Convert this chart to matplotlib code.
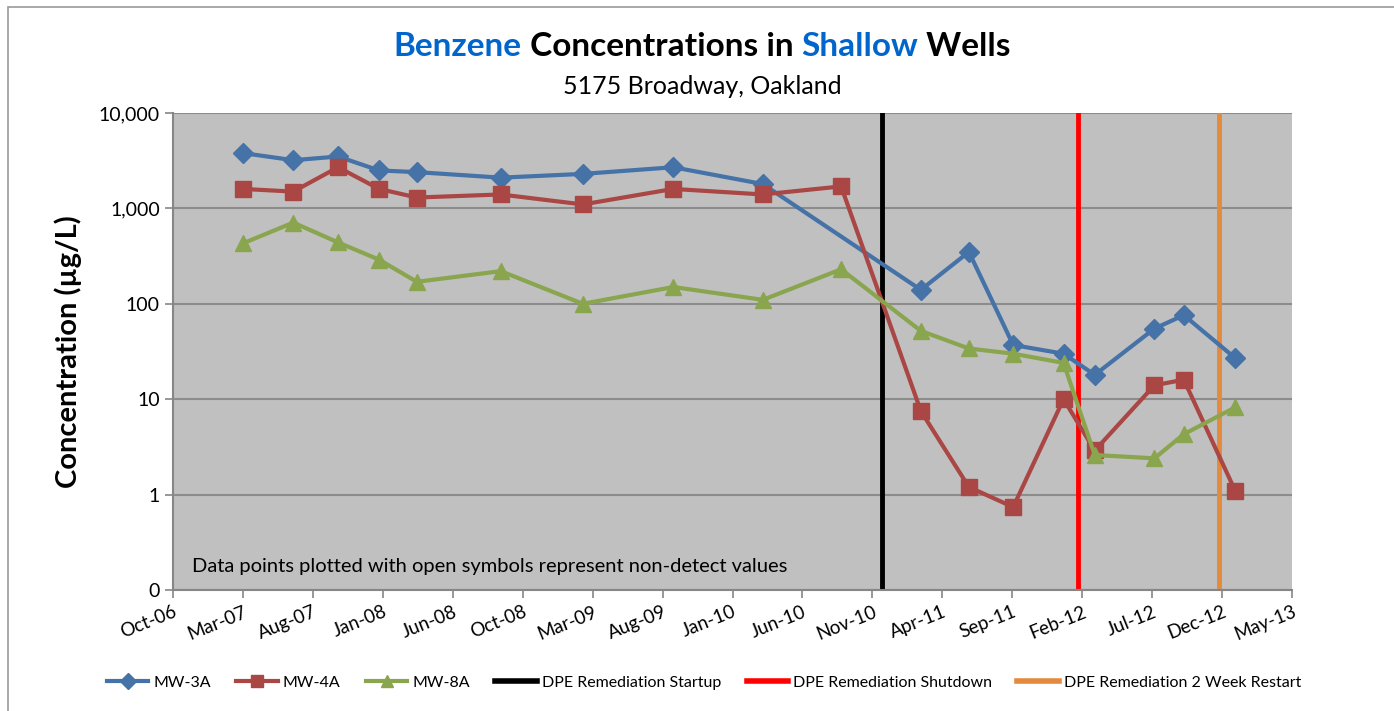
import numpy as np
import matplotlib
matplotlib.use('Agg')
import matplotlib.pyplot as plt
import matplotlib.dates as mdates
from matplotlib.lines import Line2D
from matplotlib.patches import Rectangle

plt.rcParams['font.family'] = ['Lato', 'DejaVu Sans']

# sampling dates
dates = np.array(['2007-03-10', '2007-06-26', '2007-09-30', '2007-12-27', '2008-03-17',
                  '2008-09-13', '2009-03-08', '2009-09-18', '2010-03-29', '2010-09-13',
                  '2011-03-03', '2011-06-14', '2011-09-17', '2012-01-03', '2012-03-10',
                  '2012-07-16', '2012-09-17', '2013-01-05'], dtype='datetime64[D]')

mw3a = [3800, 3200, 3500, 2500, 2400, 2100, 2300, 2700, 1800, np.nan,
        140, 350, 37, 30, 18, 55, 76, 27]
mw4a = [1600, 1500, 2700, 1600, 1300, 1400, 1100, 1600, 1400, 1700,
        7.5, 1.2, 0.74, 10, 2.9, 14, 16, 1.1]
mw8a = [430, 710, 440, 290, 170, 220, 100, 150, 110, 230,
        52, 34, 30, 24, 2.6, 2.4, 4.3, 8.2]

events = ['DPE Remediation Startup', 'DPE Remediation Shutdown', 'DPE Remediation 2 Week Restart']
event_dates = np.array(['2010-12-10', '2012-02-04', '2012-12-02'], dtype='datetime64[D]')
event_colors = ['black', '#FF0000', '#E38A3D']

# axis: Excel style date axis, 150 day major unit
x_start = np.datetime64('2006-10-11')
x_ticks = x_start + np.arange(0, 2401, 150)

fig = plt.figure(figsize=(13.94, 7.11), dpi=100)
ax = fig.add_axes([173 / 1394, 1 - 590 / 711, (1292 - 173) / 1394, (590 - 113) / 711])
ax.set_facecolor('#C0C0C0')

x = dates.astype(object)

series = [('MW-3A', mw3a, '#4572A7', 'D', 10),
          ('MW-4A', mw4a, '#AA4643', 's', 11),
          ('MW-8A', mw8a, '#89A54E', '^', 12)]
handles = []
for name, vals, col, mk, ms in series:
    v = np.array(vals, dtype=float)
    ok = ~np.isnan(v)
    xs = [d for d, k in zip(x, ok) if k]
    ax.plot(xs, v[ok], color=col, lw=3, marker=mk, ms=ms, zorder=3)
    handles.append(Line2D([], [], color=col, lw=3, marker=mk, ms=8))

for d, col in zip(event_dates, event_colors):
    ax.axvline(d.astype(object), color=col, lw=3.5, zorder=2)
    handles.append(Line2D([], [], color=col, lw=4))

ax.set_yscale('log')
ax.set_ylim(0.1, 10000)
ax.set_yticks([0.1, 1, 10, 100, 1000, 10000])
ax.set_yticklabels(['0', '1', '10', '100', '1,000', '10,000'], fontsize=14)
ax.yaxis.set_minor_locator(matplotlib.ticker.NullLocator())
ax.grid(axis='y', color='#8C8C8C', lw=1.5)
ax.set_axisbelow(True)

ax.set_xlim(x_ticks[0].astype(object), x_ticks[-1].astype(object))
ax.set_xticks([t.astype(object) for t in x_ticks])
ax.xaxis.set_major_formatter(mdates.DateFormatter('%b-%y'))
plt.setp(ax.get_xticklabels(), rotation=22, ha='right', rotation_mode='anchor', fontsize=13.5)

for s in ['top', 'right']:
    ax.spines[s].set_visible(False)
for s in ['left', 'bottom']:
    ax.spines[s].set_color('#868686')
    ax.spines[s].set_linewidth(1.5)
ax.tick_params(color='#868686', width=1.2, length=6)

ax.set_ylabel('Concentration (µg/L)', fontsize=21, fontweight='bold', labelpad=12)

ax.text(0.017, 0.05, 'Data points plotted with open symbols represent non-detect values',
        transform=ax.transAxes, fontsize=14.5, va='center', ha='left')

# title with coloured words
parts = [('Benzene', '#0066CC'), (' Concentrations in ', 'black'), ('Shallow', '#0066CC'), (' Wells', 'black')]
fig.canvas.draw()
r = fig.canvas.get_renderer()
txts = []
for s, c in parts:
    t = fig.text(0, 1 - 46 / 711, s, color=c, fontsize=24, fontweight='bold', va='center', ha='left')
    txts.append(t)
widths = [t.get_window_extent(r).width for t in txts]
total = sum(widths)
xpos = 702 - total / 2
for t, w in zip(txts, widths):
    t.set_x(xpos / 1394)
    xpos += w
fig.text(702 / 1394, 1 - 86 / 711, '5175 Broadway, Oakland', fontsize=18, ha='center', va='center')

fig.legend(handles, [s[0] for s in series] + events, loc='center', bbox_to_anchor=(0.505, 1 - 683 / 711),
           ncol=6, frameon=False, fontsize=11.5, handlelength=2.6, columnspacing=1.6, handletextpad=0.3)

# chart border (right and bottom edges fall outside the picture)
fig.patches.append(Rectangle((8 / 1394, -0.01), 1.0, 1 - 7 / 711 + 0.01, transform=fig.transFigure,
                             fill=False, edgecolor='#9A9A9A', lw=1.2))

fig.savefig('out.png', dpi=100)
